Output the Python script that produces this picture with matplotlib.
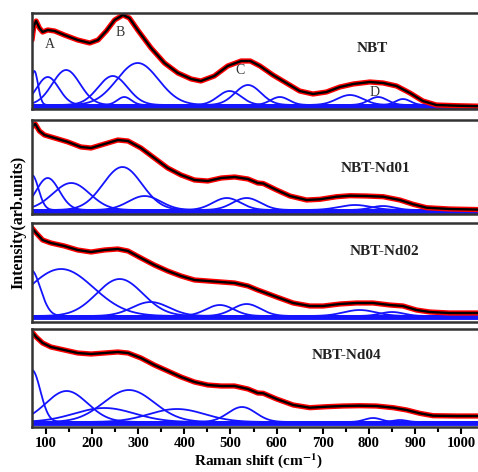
import numpy as np
import matplotlib.pyplot as plt

plt.rcParams['font.family'] = ['Liberation Serif', 'DejaVu Serif']
plt.rcParams['mathtext.fontset'] = 'stix'

# fitted envelope (Raman shift, intensity in arb. units)
nbt_x = [70, 74, 79, 86, 93, 104, 119, 140, 169, 195, 213, 231, 249, 267, 281, 299, 328, 357,
         386, 415, 436, 465, 494, 523, 543, 564, 592, 621, 650, 679, 708, 737, 766, 802, 831,
         860, 889, 917, 946, 990, 1050]
nbt_y = [69, 83, 88, 81, 77, 79, 78, 74, 69, 66, 69, 78, 89, 94, 91, 79, 61, 46,
         36, 30, 28, 33, 43, 48, 48, 43, 34, 26, 18, 15, 17, 22, 25, 27, 26,
         23, 16, 8, 4, 3.3, 2.7]

nd01_x = [70, 77, 86, 97, 119, 148, 176, 198, 227, 256, 278, 306, 335, 364, 393, 422, 451, 480,
          509, 538, 559, 571, 600, 629, 665, 694, 730, 759, 795, 831, 867, 896, 925, 975, 1050]
nd01_y = [87, 90, 83, 79, 76, 72, 67, 66, 70, 74, 73, 66, 56, 46, 39, 34, 33, 36,
          37, 35, 31, 30.5, 24, 18, 14, 14.7, 17.3, 18.3, 18, 17.3, 14, 9.7, 6.3, 5, 4.3]

nd02_x = [70, 79, 93, 111, 140, 169, 198, 227, 256, 278, 306, 335, 364, 393, 422, 451, 480, 509,
          538, 559, 571, 600, 636, 672, 701, 737, 773, 809, 845, 874, 903, 932, 975, 1050]
nd02_y = [94, 89, 82, 79, 76, 72, 70, 72, 73, 71, 64, 57, 51, 46, 42, 41, 40, 39,
          36, 32, 30, 25, 19, 16, 16, 18, 19, 19, 17, 16, 12, 10, 9, 9]

nd04_x = [70, 79, 93, 111, 140, 169, 198, 227, 256, 278, 306, 335, 364, 393, 422, 451, 480, 509,
          538, 559, 571, 600, 636, 672, 708, 744, 780, 816, 853, 882, 910, 939, 990, 1050]
nd04_y = [95, 90, 84, 80, 77, 74, 73, 74, 75, 74, 69, 62, 56, 50, 45, 42, 41, 41,
          38, 34, 33.7, 28, 22, 19.3, 20.3, 21, 21.3, 21, 19.3, 17, 13.7, 11.3, 11, 11]

# fitted peak components: centre, height above baseline, width
nbt_pos = [75, 104, 144, 245, 270, 299, 498, 538, 607, 759, 820, 874]
nbt_amp = [34, 28, 35, 29, 8, 42, 14, 20, 8, 10, 8, 6]
nbt_wid = [8, 24, 30, 32, 15, 45, 25, 28, 20, 28, 20, 16]

nd01_pos = [70, 104, 155, 266, 314, 492, 535, 770, 830]
nd01_amp = [35, 32, 27, 43, 14, 12, 12, 5, 4]
nd01_wid = [14, 25, 40, 42, 35, 30, 30, 35, 25]

nd02_pos = [68, 133, 260, 327, 477, 535, 780, 850]
nd02_amp = [46, 47, 37, 14, 11, 12, 6, 4]
nd02_wid = [20, 70, 50, 40, 30, 30, 35, 25]

nd04_pos = [70, 145, 227, 280, 384, 525, 809, 867]
nd04_amp = [52, 31, 14, 32, 13, 15, 4, 2]
nd04_wid = [18, 45, 65, 55, 60, 30, 18, 15]

baselines = [4, 4, 6, 5]
names = ['NBT', 'NBT-Nd01', 'NBT-Nd02', 'NBT-Nd04']
name_xy = [(808, 61), (815, 45), (834, 70.7), (751, 71.3)]

envelopes = [(nbt_x, nbt_y), (nd01_x, nd01_y), (nd02_x, nd02_y), (nd04_x, nd04_y)]
components = [(nbt_pos, nbt_amp, nbt_wid), (nd01_pos, nd01_amp, nd01_wid),
              (nd02_pos, nd02_amp, nd02_wid), (nd04_pos, nd04_amp, nd04_wid)]

# panel boxes in pixels (top, bottom)
W, H = 478, 472
boxes = [(13, 109), (120, 214), (223, 322), (329, 427)]
x_lo, x_hi = 70, 1050
px_per_unit = 0.4615
left_px = 32

fig = plt.figure(figsize=(W / 100, H / 100), dpi=100)
grid = np.linspace(x_lo, x_hi, 800)

for i, (top, bot) in enumerate(boxes):
    width_px = (x_hi - x_lo) * px_per_unit
    ax = fig.add_axes([left_px / W, 1 - bot / H, width_px / W, (bot - top) / H])
    ax.set_xlim(x_lo, x_hi)
    ax.set_ylim(0, bot - top)

    base = baselines[i]
    pos, amp, wid = components[i]
    for c, a, w in zip(pos, amp, wid):
        ax.plot(grid, base + a * np.exp(-(grid - c) ** 2 / (2 * w ** 2)), color='#1414ff', lw=1.3)
    ax.plot(grid, np.full_like(grid, base - 1), color='#1414ff', lw=3.5)

    ex, ey = envelopes[i]
    ax.plot(ex, ey, color='red', lw=3.8, solid_capstyle='round', solid_joinstyle='round')
    ax.plot(ex, ey, color='black', lw=1.7, solid_joinstyle='round')

    ax.text(name_xy[i][0], name_xy[i][1], names[i], ha='center', va='center',
            fontsize=11, fontweight='bold', color='#222222')

    for s in ax.spines.values():
        s.set_linewidth(1.8)
        s.set_color('#333333')
    ax.set_yticks([])
    if i < 3:
        ax.set_xticks([])
    else:
        ax.set_xticks(range(100, 1001, 100))
        ax.set_xticks(range(150, 1001, 100), minor=True)
        ax.tick_params(axis='x', which='major', direction='out', length=5, width=1.5, pad=2,
                       labelsize=10.5)
        ax.tick_params(axis='x', which='minor', direction='out', length=3.5, width=1.5)
        for lab in ax.get_xticklabels():
            lab.set_fontweight('bold')
        ax.set_xlabel(r'Raman shift (cm$^{\mathbf{-1}}$)', fontsize=11, fontweight='bold',
                      labelpad=1)

    if i == 0:
        for letter, lx, ly in [('A', 108, 64), ('B', 260, 76), ('C', 520, 39), ('D', 813, 17)]:
            ax.text(lx, ly, letter, ha='center', va='center', fontsize=10, color='#333333')

fig.text(18 / W, 1 - 222 / H, 'Intensity(arb.units)', rotation=90, ha='center', va='center',
         fontsize=11.5, fontweight='bold')

fig.savefig('out.png', dpi=100)
